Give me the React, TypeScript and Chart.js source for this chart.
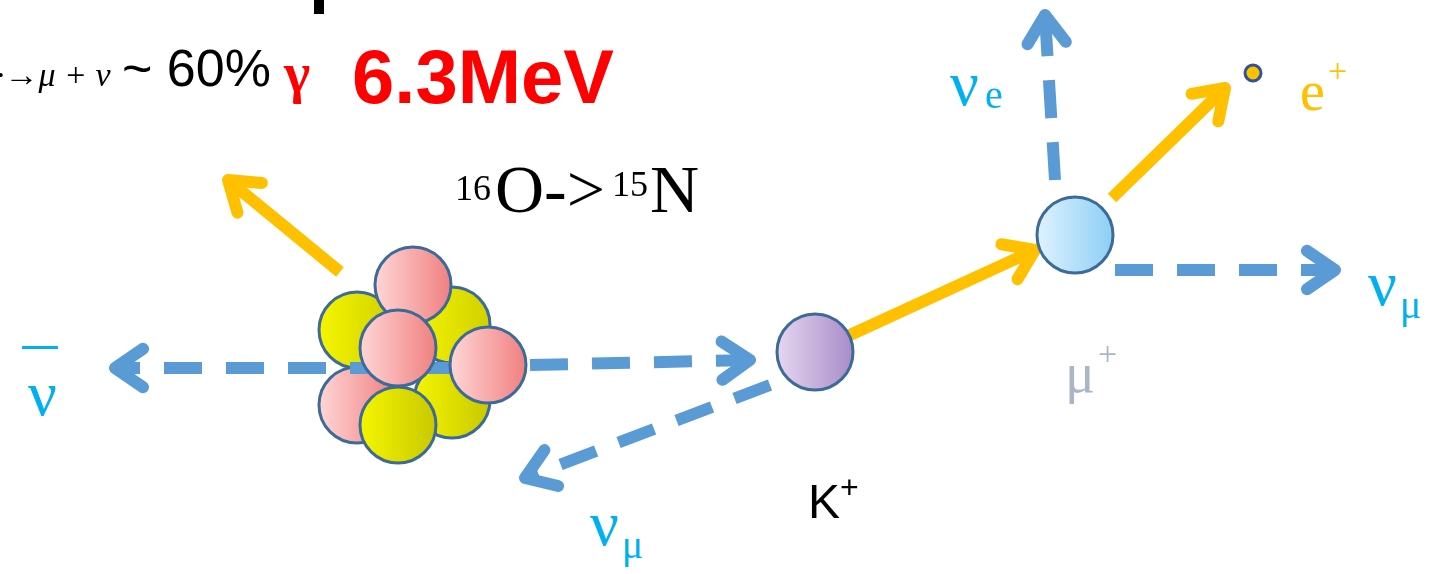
import { useEffect, useRef } from "react";
import { Chart, registerables } from "chart.js";
Chart.register(...registerables);

const W = 1449, H = 574;
// circles: x, y, r, fill inner, fill outer
const circleX = [357, 452, 357, 452, 413, 398, 398, 488, 815, 1075, 1253];
const circleY = [405, 400, 330, 325, 285, 425, 348, 365, 352, 235, 73];
const circleR = [38, 38, 38, 38, 38, 38, 38, 38, 38, 38, 8];
const circleIn = ["#ffd6d6", "#f5f500", "#f5f500", "#f5f500", "#ffd6d6", "#f5f500", "#ffd6d6", "#ffd6d6", "#e6d6f0", "#dff2ff", "#ffc000"];
const circleOut = ["#f08080", "#c8c800", "#d0d000", "#d0d000", "#f08080", "#c8c800", "#f08080", "#f08080", "#a88cc8", "#8ccff5", "#ffc000"];
// arrows: x1,y1,x2,y2,color,dashed
const arrX1 = [450, 530, 770, 1055, 1115, 340, 850, 1112];
const arrY1 = [368, 365, 385, 180, 270, 272, 335, 198];
const arrX2 = [115, 750, 525, 1045, 1335, 228, 1035, 1225];
const arrY2 = [368, 360, 478, 15, 270, 180, 250, 88];
const arrDashed = [true, true, true, true, true, false, false, false];
const BLUE = "#5b9bd5", ORANGE = "#ffc000";

function App() {
  const ref = useRef<HTMLCanvasElement>(null);
  useEffect(() => {
    const draw = {
      id: "draw",
      afterDatasetsDraw(chart: any) {
        const c = chart.ctx, xs = chart.scales.x, ys = chart.scales.y;
        const px = (v: number) => xs.getPixelForValue(v), py = (v: number) => ys.getPixelForValue(v);
        const circle = (i: number) => {
          const x = px(circleX[i]), y = py(circleY[i]), r = circleR[i];
          const g = c.createLinearGradient(x - r, y, x + r, y);
          g.addColorStop(0, circleIn[i]); g.addColorStop(1, circleOut[i]);
          c.beginPath(); c.arc(x, y, r, 0, Math.PI * 2);
          c.fillStyle = g; c.fill();
          c.lineWidth = 3; c.strokeStyle = i === 10 ? "#2f5597" : "#3d6b99"; c.stroke();
        };
        const arrow = (i: number) => {
          const x1 = px(arrX1[i]), y1 = py(arrY1[i]), x2 = px(arrX2[i]), y2 = py(arrY2[i]);
          const col = arrDashed[i] ? BLUE : ORANGE;
          const a = Math.atan2(y2 - y1, x2 - x1);
          c.save(); c.strokeStyle = col; c.lineWidth = 12; c.lineCap = "butt";
          c.setLineDash(arrDashed[i] ? [38, 24] : []);
          c.beginPath(); c.moveTo(x1, y1); c.lineTo(x2 - 8 * Math.cos(a), y2 - 8 * Math.sin(a)); c.stroke();
          c.setLineDash([]); c.lineCap = "round"; c.lineJoin = "round";
          c.beginPath();
          c.moveTo(x2 - 34 * Math.cos(a - 0.6), y2 - 34 * Math.sin(a - 0.6));
          c.lineTo(x2, y2);
          c.lineTo(x2 - 34 * Math.cos(a + 0.6), y2 - 34 * Math.sin(a + 0.6));
          c.stroke(); c.restore();
        };
        arrow(5);
        for (let i = 0; i < 6; i++) circle(i);
        arrow(0);
        circle(6); circle(7);
        arrow(1); arrow(2);
        arrow(6); arrow(7); arrow(3); arrow(4);
        circle(8); circle(9); circle(10);
        const txt = (s: string, x: number, y: number, font: string, col: string) => {
          c.font = font; c.fillStyle = col; c.textBaseline = "alphabetic"; c.fillText(s, px(x), py(y));
        };
        const serif = "'Liberation Serif', serif";
        const sb = "#00b0f0";
        txt("ν", 28, 415, `64px ${serif}`, sb);
        c.fillStyle = sb; c.fillRect(px(22), py(346), 36, 3);
        txt("ν", 950, 105, `64px ${serif}`, sb); txt("e", 985, 108, `40px ${serif}`, sb);
        txt("e", 1300, 110, `56px ${serif}`, ORANGE); txt("+", 1328, 82, `34px ${serif}`, ORANGE);
        txt("ν", 1368, 305, `64px ${serif}`, sb); txt("μ", 1400, 318, `40px ${serif}`, sb);
        txt("ν", 590, 545, `64px ${serif}`, sb); txt("μ", 622, 558, `40px ${serif}`, sb);
        txt("μ", 1065, 392, `56px ${serif}`, "#aab6c8"); txt("+", 1098, 365, `34px ${serif}`, "#aab6c8");
        txt("K", 808, 518, `48px 'Liberation Sans', sans-serif`, "#000");
        txt("+", 840, 498, `32px 'Liberation Sans', sans-serif`, "#000");
        txt("16", 455, 200, `36px ${serif}`, "#000");
        txt("O->", 495, 212, `68px ${serif}`, "#000");
        txt("15", 612, 196, `36px ${serif}`, "#000");
        txt("N", 650, 212, `68px ${serif}`, "#000");
        txt("·→μ + ν", -4, 86, `italic 34px ${serif}`, "#000");
        txt("~ 60%", 122, 86, `52px 'Liberation Sans', sans-serif`, "#000");
        txt("γ", 284, 92, `bold 56px ${serif}`, "#ff0000");
        txt("6.3MeV", 352, 103, `bold 76px 'Liberation Sans', sans-serif`, "#ff0000");
        c.fillStyle = "#000"; c.fillRect(px(314), py(0), 10, 14);
      },
    };
    const ch = new Chart(ref.current!, {
      type: "scatter",
      data: { datasets: [{ data: [], pointRadius: 0 }] },
      options: {
        animation: false, responsive: false,
        layout: { padding: 0 },
        plugins: { legend: { display: false }, tooltip: { enabled: false } },
        scales: {
          x: { type: "linear", min: 0, max: W, display: false },
          y: { type: "linear", min: 0, max: H, reverse: true, display: false },
        },
      },
      plugins: [draw],
    });
    return () => ch.destroy();
  }, []);
  return (
    <div style={{ position: "fixed", left: 0, top: 0, width: W, height: H, background: "#fff" }}>
      <canvas ref={ref} width={W} height={H} style={{ width: W, height: H }} />
    </div>
  );
}
export default App;
